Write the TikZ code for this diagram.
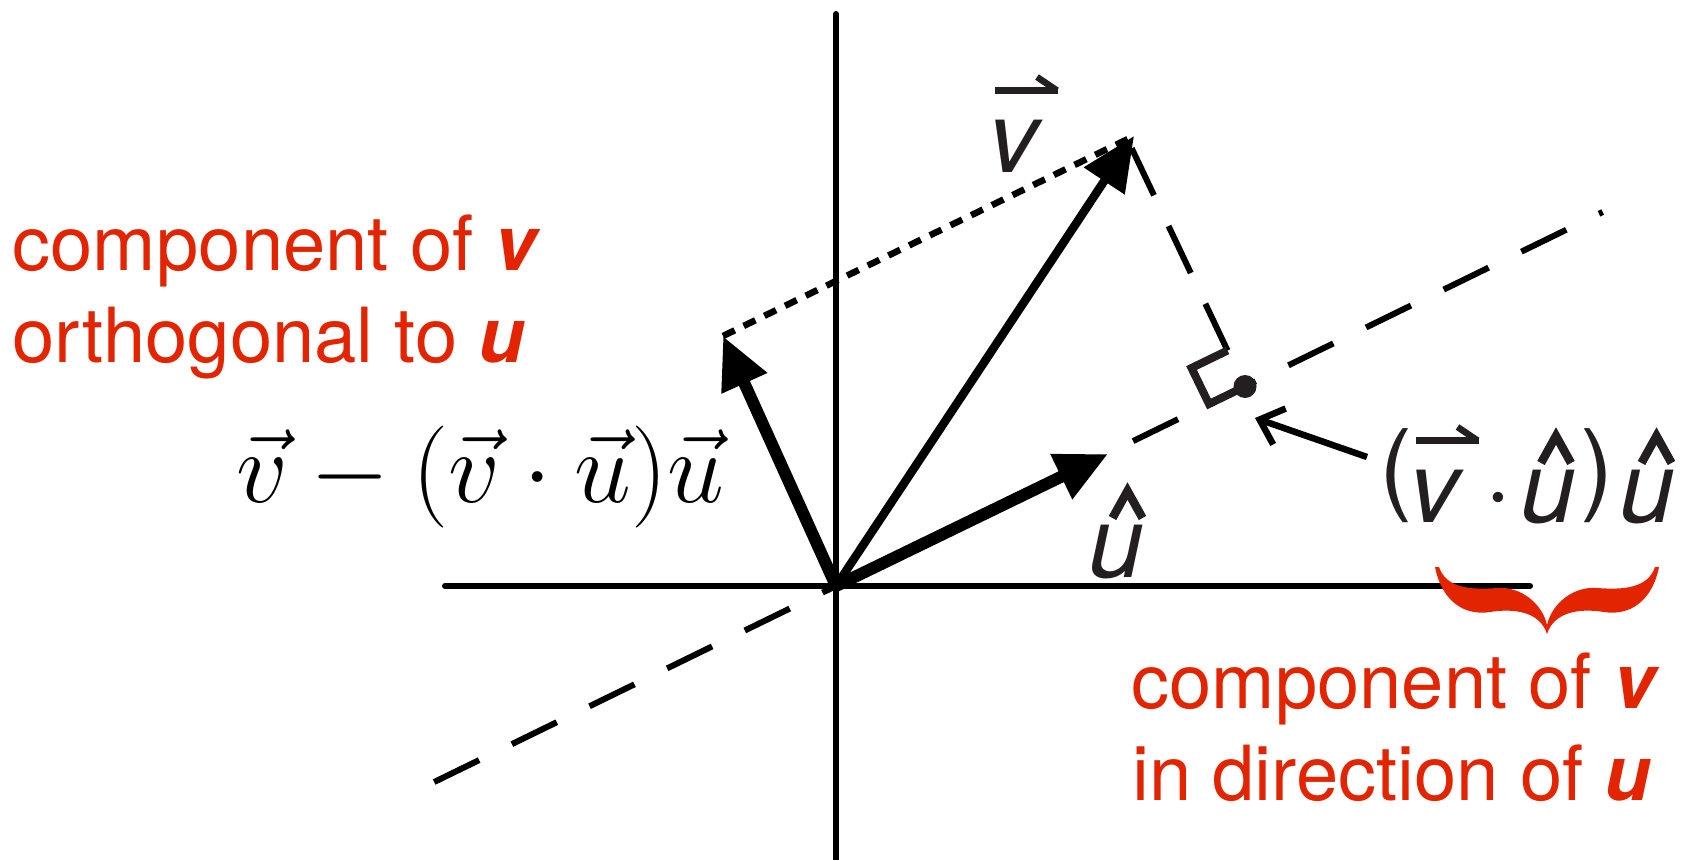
\RequirePackage{fix-cm}
\documentclass[tikz,border=0pt]{standalone}
\usepackage{fontspec}
\newfontfamily\heros{TeX Gyre Heros}
\usetikzlibrary{arrows.meta,calc}
\definecolor{redc}{RGB}{226,36,0}
\definecolor{ink}{RGB}{35,31,32}
\tikzset{
  axisline/.style={line width=6pt, line cap=round},
  uline/.style={line width=6pt, dash pattern=on 50pt off 36.4pt},
  perpline/.style={line width=6pt, dash pattern=on 52pt off 34pt},
  dotline/.style={line width=6.5pt, dash pattern=on 13pt off 10pt},
  vecthick/.style={line width=12pt, -{Triangle[length=52pt,width=47pt]}},
  vecthin/.style={line width=8.5pt, -{Triangle[length=54pt,width=47pt]}},
  pointer/.style={line width=6.5pt, -{Straight Barb[length=21pt,width=38pt]}},
  redtxt/.style={text=redc, font=\heros\fontsize{76}{92}\selectfont, inner sep=0pt, anchor=base west},
  glyph/.style={inner sep=0pt, anchor=base, text=ink, font=\heros\fontsize{100}{120}\selectfont},
  hatmark/.style={line width=8.5pt, draw=ink, line join=miter},
  harp/.style={line width=6.5pt, draw=ink},
  rightmark/.style={line width=8pt, draw=ink, line join=miter}
}
\newcommand\harpat[1]{%
  \draw[harp] ($(#1.base)+(-21,-81.5)$) -- ($(#1.base)+(42,-81.5)$);
  \draw[harp] ($(#1.base)+(21,-95)$) -- ($(#1.base)+(41,-81.5)$);}
\newcommand\hatat[2]{%
  \draw[hatmark] ($(#1.base)+(-7.5+#2,-59)$) -- ($(#1.base)+(7.5+#2,-86)$) -- ($(#1.base)+(22.5+#2,-59)$);}
\begin{document}
\begin{tikzpicture}[x=1pt,y=-1pt]
\fill[white] (0,0) rectangle (1683,859);
\path[use as bounding box] (0,0) rectangle (1683,859);
% key points
\coordinate (O) at (836,586);
\coordinate (U) at (1108,454);
\coordinate (V) at (1134,136);
\coordinate (W) at (723,336);
\coordinate (F) at (1245,386.5);
\coordinate (ua) at (434.2,782);
\coordinate (ub) at (1602.7,212);
\coordinate (pt) at ($(F)+(-113.3,-238.2)$);
\coordinate (pc) at ($(F)+(-17.5,-36)$);
\coordinate (sq) at ($(pc)+(-36,17.5)$);
\coordinate (fu) at ($(F)+(-36,17.5)$);
\coordinate (xl) at (445,586);
\coordinate (xr) at (1530,586);
\coordinate (yt) at (836,14);
\coordinate (yb) at (836,866);
\coordinate (T) at (1367,457);
\coordinate (Tip) at (1255,418);
% axes
\draw[axisline] (xl) -- (xr);
\draw[axisline] (yt) -- (yb);
% dashed lines
\draw[uline] (ua) -- (ub);
\draw[perpline] (pt) -- (pc);
\draw[rightmark] (pc) -- (sq) -- (fu) -- (F);
\fill[ink] (F) circle (11.5);
\draw[dotline] (W) -- (V);
% vectors
\draw[vecthin] (O) -- (V);
\draw[vecthick] (O) -- (U);
\draw[vecthick] (O) -- (W);
% brace
\fill[redc] (1435,567) .. controls (1442,602) and (1465,616) .. (1490,612)
  .. controls (1515,608) and (1540,612) .. (1547,634)
  .. controls (1554,612) and (1579,608) .. (1604,612)
  .. controls (1629,616) and (1652,602) .. (1659,567)
  -- (1655,567) .. controls (1648,588) and (1624,590) .. (1597,588)
  .. controls (1574,586) and (1552,603) .. (1547,625)
  .. controls (1542,603) and (1520,586) .. (1497,588)
  .. controls (1470,590) and (1446,588) .. (1439,567) -- cycle;
% red texts
\node[redtxt] (ta1) at (12.5,270) {component of \textbf{\textit{v}}};
\node[redtxt] (ta2) at (12.5,362) {orthogonal to \textbf{\textit{u}}};
\node[redtxt] (tb1) at (1131,708) {component of \textbf{\textit{v}}};
\node[redtxt] (tb2) at (1132,800) {in direction of \textbf{\textit{u}}};
% math label
\node[inner sep=0pt, anchor=base west, font=\fontsize{102}{122}\selectfont] (ml) at (236,502) {$\vec{v}-(\vec{v}\cdot\vec{u})\vec{u}$};
% v label
\node[glyph] (vt) at (1016,172) {\textit{v}};
\harpat{vt}
% u hat label
\node[glyph] (uh) at (1116,577) {\textit{u}};
\hatat{uh}{4}
% right label
\node[glyph] (lp) at (1396,501) {(};
\node[glyph] (vr) at (1436.5,522) {\textit{v}};
\node[glyph] (cd) at (1498,522) {·};
\node[glyph] (u1) at (1548.5,522) {\textit{u}};
\node[glyph] (rp) at (1597,501) {)};
\node[glyph] (u2) at (1647,522) {\textit{u}};
\harpat{vr}
\hatat{u1}{0}
\hatat{u2}{2}
\draw[pointer] (T) -- (Tip);
\end{tikzpicture}
\end{document}
